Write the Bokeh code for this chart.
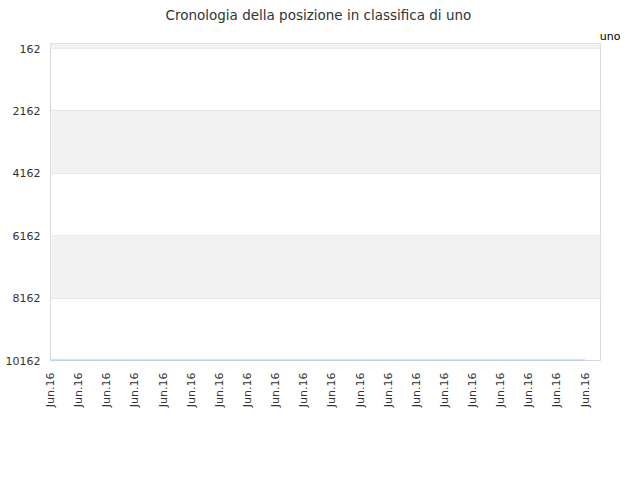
from bokeh.plotting import figure
from bokeh.models import (Range1d, FixedTicker, BoxAnnotation, Title,
                          ColumnDataSource)
from bokeh.embed import file_html
from bokeh.resources import INLINE

# ---- data ----
title_text = "Cronologia della posizione in classifica di uno"
series_name = "uno"
x_labels = ["Jun.16"] * 20
x_pos = list(range(20))
ranks = [10162, 10162, 10162, 10162, 10162, 10162, 10162, 10162, 10162, 10162,
         10162, 10162, 10162, 10162, 10162, 10162, 10162, 10162, 10162, 10162]
y_ticks = [162, 2162, 4162, 6162, 8162, 10162]
y_top = 0

FONT = "DejaVu Sans"
GRID = "#e6e6e6"
BAND = "#f2f2f2"

p = figure(width=624, height=464, output_backend="svg", toolbar_location=None,
           x_range=Range1d(-0.004, 19.55), y_range=Range1d(y_ticks[-1], y_top),
           min_border_left=50, min_border_right=24, min_border_top=40,
           min_border_bottom=104)
p.outline_line_color = "#d8d8d8"
p.outline_line_width = 1
p.background_fill_color = "white"
p.border_fill_color = "white"

# main title (outer row of the top panel)
p.title.text = title_text
p.title.align = "left"
p.title.offset = 115
p.title.text_font = FONT
p.title.text_font_size = "13.5px"
p.title.text_font_style = "normal"
p.title.text_color = "#333333"
p.title.standoff = 8

# series name (inner row, right side)
p.add_layout(Title(text=series_name, align="right", offset=-20, standoff=2,
                   text_font=FONT, text_font_size="11px",
                   text_font_style="normal", text_color="#000000"), "above")

# alternating bands (from the top: gray, white, gray, ...)
edges = [y_top] + y_ticks
for i in range(len(edges) - 1):
    if i % 2 == 0:
        p.add_layout(BoxAnnotation(top=edges[i], bottom=edges[i + 1],
                                   fill_color=BAND, fill_alpha=1.0,
                                   line_alpha=0, level="underlay"))

src = ColumnDataSource(dict(x=x_pos, y=ranks))
r = p.line("x", "y", source=src, line_color="#a3c8ef", line_width=2)

# axes
p.yaxis.ticker = FixedTicker(ticks=y_ticks)
p.yaxis.axis_line_color = None
p.yaxis.major_tick_line_color = None
p.yaxis.minor_tick_line_color = None
p.yaxis.major_tick_out = 0
p.yaxis.major_tick_in = 0
p.yaxis.major_label_text_font = FONT
p.yaxis.major_label_text_font_size = "11px"
p.yaxis.major_label_text_color = "#333333"
p.yaxis.major_label_standoff = 10

p.xaxis.ticker = FixedTicker(ticks=x_pos)
p.xaxis.major_label_overrides = {i: lab for i, lab in zip(x_pos, x_labels)}
p.xaxis.major_label_orientation = 1.5708
p.xaxis.axis_line_color = None
p.xaxis.major_tick_line_color = None
p.xaxis.minor_tick_line_color = None
p.xaxis.major_tick_out = 0
p.xaxis.major_tick_in = 0
p.xaxis.major_label_text_font = FONT
p.xaxis.major_label_text_font_size = "11px"
p.xaxis.major_label_text_color = "#333333"
p.xaxis.major_label_standoff = 12

p.xgrid.grid_line_color = None
p.ygrid.ticker = FixedTicker(ticks=y_ticks)
p.ygrid.grid_line_color = GRID

open("out.html", "w").write(file_html(p, INLINE))
